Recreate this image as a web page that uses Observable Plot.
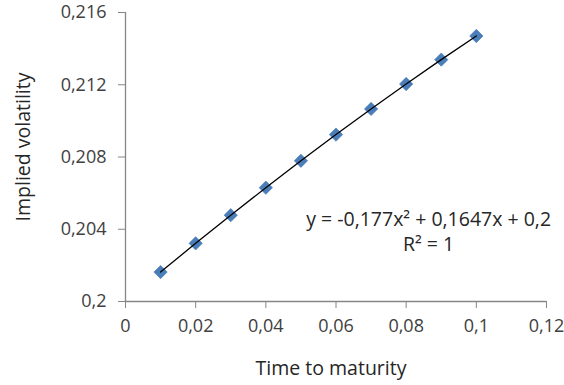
<!DOCTYPE html>
<html>
<head>
<meta charset="utf-8">
<script src="https://cdn.jsdelivr.net/npm/d3@7"></script>
<script src="https://cdn.jsdelivr.net/npm/@observablehq/plot@0.6"></script>
<style>
  html, body { margin: 0; padding: 0; background: #fff; }
  #chart { width: 564px; height: 385px; }
</style>
</head>
<body>
<div id="chart"></div>
<script>
// Data
const times = [0.01, 0.02, 0.03, 0.04, 0.05, 0.06, 0.07, 0.08, 0.09, 0.10];
const vols = [0.20163, 0.20322, 0.20478, 0.20630, 0.20779, 0.20924, 0.21066, 0.21204, 0.21339, 0.21470];
const xTicks = [0, 0.02, 0.04, 0.06, 0.08, 0.10, 0.12];
const yTicks = [0.200, 0.204, 0.208, 0.212, 0.216];
const xTitle = "Time to maturity";
const yTitle = "Implied volatility";
const equation = "y = -0,177x² + 0,1647x + 0,2\nR² = 1";

const data = times.map((t, i) => ({t, v: vols[i]}));
const fmt = d => d3.format("~g")(+d.toFixed(4)).replace(".", ",");

const FONT = "'Open Sans', sans-serif";
const AXIS = "#868686";
const FS = 19.5;
const TFS = 18;

const chart = Plot.plot({
  width: 564,
  height: 385,
  marginLeft: 125,
  marginRight: 18,
  marginTop: 12,
  marginBottom: 84,
  style: {fontFamily: FONT, color: "#404040", background: "#fff", overflow: "visible"},
  x: {domain: [0, 0.12]},
  y: {domain: [0.2, 0.216]},
  marks: [
    Plot.ruleX([0], {stroke: AXIS, strokeWidth: 1.3}),
    Plot.ruleY([0.2], {stroke: AXIS, strokeWidth: 1.3}),
    Plot.axisX(xTicks, {tickSize: 7, tickPadding: 11, tickFormat: fmt, stroke: AXIS, fontSize: TFS, label: null}),
    Plot.axisY(yTicks, {tickSize: 7, tickPadding: 12, tickFormat: fmt, stroke: AXIS, fontSize: TFS, label: null}),
    Plot.dot(data, {x: "t", y: "v", symbol: "diamond2", r: 6, fill: "#4a7ebb", stroke: "#3f70ad", strokeWidth: 0.6}),
    Plot.line(data, {x: "t", y: "v", stroke: "#000", strokeWidth: 1.3}),
    Plot.text([equation], {x: 0.0864, y: 0.20393, textAnchor: "middle", lineAnchor: "middle", lineHeight: 1.28, fontSize: FS, fill: "#262626"}),
    Plot.text([xTitle], {frameAnchor: "bottom", dx: -5, dy: 67, lineAnchor: "middle", fontSize: FS, fill: "#262626"}),
    Plot.text([yTitle], {frameAnchor: "left", rotate: -90, textAnchor: "middle", dx: -102, dy: -10, lineAnchor: "middle", fontSize: FS, fill: "#262626"})
  ]
});
document.getElementById("chart").appendChild(chart);
</script>
</body>
</html>
